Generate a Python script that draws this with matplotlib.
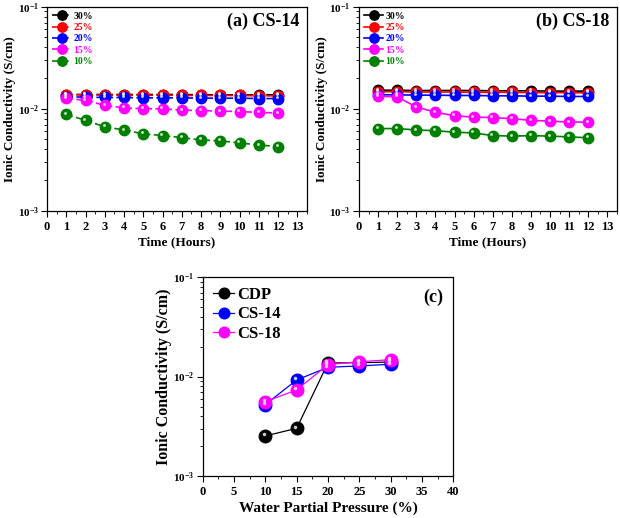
import numpy as np
import matplotlib
matplotlib.use("Agg")
import matplotlib.pyplot as plt
from matplotlib.ticker import MultipleLocator, LogLocator, NullFormatter
from matplotlib.transforms import offset_copy

plt.rcParams['font.family'] = 'Liberation Serif'
plt.rcParams['font.weight'] = 'bold'
plt.rcParams['mathtext.fontset'] = 'custom'
plt.rcParams['mathtext.rm'] = 'Liberation Serif:bold'
plt.rcParams['mathtext.bf'] = 'Liberation Serif:bold'
plt.rcParams['mathtext.default'] = 'bf'

# Time (hours)
hours = list(range(1, 13))
labels = ['30%', '25%', '20%', '15%', '10%']
colors = ['black', 'red', 'blue', 'magenta', 'green']

# (a) CS-14
cs14_30 = [0.0138, 0.0138, 0.0138, 0.0138, 0.0138, 0.0138, 0.0138, 0.0137, 0.0137, 0.0137, 0.0137, 0.0137]
cs14_25 = [0.0137, 0.0137, 0.0136, 0.0136, 0.0136, 0.0136, 0.0135, 0.0135, 0.0135, 0.0135, 0.0134, 0.0134]
cs14_20 = [0.0131, 0.0130, 0.0129, 0.0129, 0.0128, 0.0128, 0.0128, 0.0127, 0.0127, 0.0127, 0.0126, 0.0126]
cs14_15 = [0.01265, 0.0121, 0.0108, 0.0102, 0.0100, 0.0100, 0.0097, 0.0096, 0.0095, 0.0094, 0.0092, 0.0091]
cs14_10 = [0.0088, 0.0077, 0.00665, 0.0062, 0.00567, 0.00547, 0.00522, 0.00495, 0.00485, 0.00463, 0.00442, 0.00426]

# (b) CS-18
cs18_30 = [0.0152, 0.0152, 0.0151, 0.0151, 0.0151, 0.0151, 0.0150, 0.0150, 0.0150, 0.0149, 0.0149, 0.0149]
cs18_25 = [0.0147, 0.0147, 0.0146, 0.0146, 0.0146, 0.0145, 0.0145, 0.0145, 0.0144, 0.0144, 0.0144, 0.0143]
cs18_20 = [0.0137, 0.0137, 0.0136, 0.0136, 0.0135, 0.0135, 0.0134, 0.0134, 0.0133, 0.0133, 0.0132, 0.0132]
cs18_15 = [0.01325, 0.0131, 0.0104, 0.00927, 0.00853, 0.0083, 0.0082, 0.0080, 0.0077, 0.00757, 0.0074, 0.0074]
cs18_10 = [0.0064, 0.0064, 0.0062, 0.0061, 0.0059, 0.0058, 0.00546, 0.0054, 0.00545, 0.0054, 0.0053, 0.0052]

# (c) vs water partial pressure
pressure = [10, 15, 20, 25, 30]
cdp = [0.00253, 0.00302, 0.0137, 0.0138, 0.0140]
cs14 = [0.00523, 0.00925, 0.0124, 0.0128, 0.0133]
cs18 = [0.0056, 0.00734, 0.0132, 0.0141, 0.0148]


def ball(ax, x, y, color, ls, lw, ms, label):
    ax.plot(x, y, ls=ls, color=color, lw=lw, marker='o', ms=ms,
            mfc=color, mec=color, label=label, zorder=3)
    # light highlight to mimic the shaded spheres
    tr = offset_copy(ax.transData, fig=ax.figure, x=-ms * 0.12, y=ms * 0.14, units='points')
    ax.plot(x, y, ls='none', marker='o', ms=ms * 0.28, mfc='#f0f0f0',
            mec='none', alpha=0.85, zorder=4, transform=tr)


def style(ax, xlim, xmajor, xminor, xlabel, xlsize, ylsize):
    ax.set_yscale('log')
    ax.set_ylim(1e-3, 1e-1)
    ax.set_xlim(*xlim)
    ax.xaxis.set_major_locator(MultipleLocator(xmajor))
    ax.xaxis.set_minor_locator(MultipleLocator(xminor))
    ax.yaxis.set_major_locator(LogLocator(base=10, numticks=5))
    ax.yaxis.set_minor_locator(LogLocator(base=10, subs=np.arange(2, 10), numticks=20))
    ax.yaxis.set_minor_formatter(NullFormatter())
    ax.tick_params(which='major', direction='out', length=4, width=0.8)
    ax.tick_params(axis='x', which='major', labelsize=9)
    ax.tick_params(axis='y', which='major', labelsize=8, pad=2)
    ax.tick_params(which='minor', direction='out', length=2, width=0.6)
    for s in ax.spines.values():
        s.set_linewidth(0.9)
    ax.set_xlabel(xlabel, fontsize=xlsize, fontweight='bold', labelpad=2)
    ax.set_ylabel('Ionic Conductivity (S/cm)', fontsize=ylsize, fontweight='bold', labelpad=1)


fig = plt.figure(figsize=(6.2, 5.18), dpi=100)

ax1 = fig.add_axes([0.076, 0.593, 0.419, 0.394])
for ys, c, l in zip([cs14_30, cs14_25, cs14_20, cs14_15, cs14_10], colors, labels):
    ball(ax1, hours, ys, c, (0, (4, 2)), 1.2, 7.5, l)
style(ax1, (0, 13.5), 1, 0.5, 'Time (Hours)', 9.5, 9.5)
ax1.text(0.97, 0.93, '(a) CS-14', transform=ax1.transAxes, ha='right', va='center',
         fontsize=13, fontweight='bold')

ax2 = fig.add_axes([0.579, 0.593, 0.416, 0.394])
for ys, c, l in zip([cs18_30, cs18_25, cs18_20, cs18_15, cs18_10], colors, labels):
    ball(ax2, hours, ys, c, '-', 1.2, 7.5, l)
style(ax2, (0, 13.5), 1, 0.5, 'Time (Hours)', 9.5, 9.5)
ax2.text(0.97, 0.93, '(b) CS-18', transform=ax2.transAxes, ha='right', va='center',
         fontsize=13, fontweight='bold')

for ax in (ax1, ax2):
    leg = ax.legend(loc='upper left', frameon=False, fontsize=7, handlelength=2.0,
                    handletextpad=0.2, labelspacing=0.25, borderaxespad=0.3,
                    borderpad=0.2, markerscale=0.9)
    for t, c in zip(leg.get_texts(), colors):
        t.set_color(c)

ax3 = fig.add_axes([0.327, 0.081, 0.404, 0.384])
ball(ax3, pressure, cdp, 'black', '-', 0.9, 9, 'CDP')
ball(ax3, pressure, cs14, 'blue', '-', 0.9, 9, 'CS-14')
ball(ax3, pressure, cs18, 'magenta', '-', 0.9, 9, 'CS-18')
style(ax3, (0, 40), 5, 2.5, 'Water Partial Pressure (%)', 11, 11.5)
ax3.text(0.96, 0.9, '(c)', transform=ax3.transAxes, ha='right', va='center',
         fontsize=13, fontweight='bold')
ax3.legend(loc='upper left', frameon=False, fontsize=12, handlelength=1.3,
           handletextpad=0.2, labelspacing=0.2, borderaxespad=0.2, markerscale=0.85)

fig.savefig('out.png', dpi=100)
